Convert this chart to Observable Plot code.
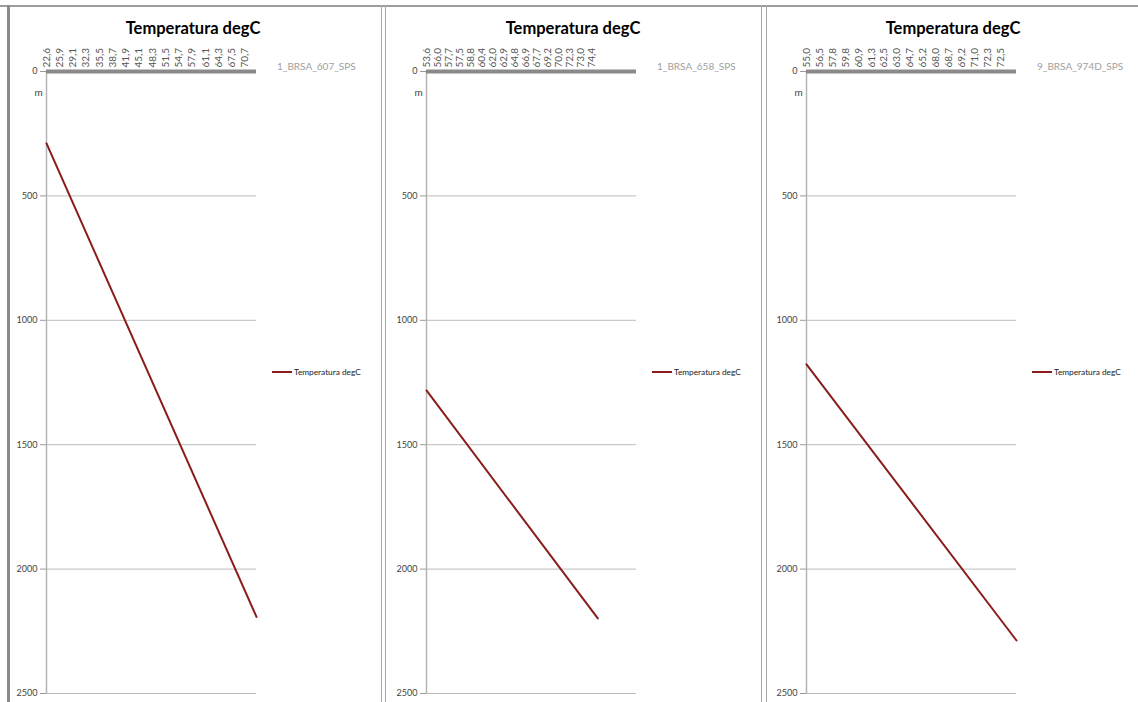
<!DOCTYPE html>
<html>
<head>
<meta charset="utf-8">
<script src="https://cdn.jsdelivr.net/npm/d3@7"></script>
<script src="https://cdn.jsdelivr.net/npm/@observablehq/plot@0.6"></script>
<style>
  html, body { margin: 0; padding: 0; background: #fff; }
  #wrap { position: relative; width: 1138px; height: 702px; overflow: hidden; font-family: Lato, "Open Sans", sans-serif; }
  .abs { position: absolute; }
  .title { font-weight: bold; font-size: 16.5px; color: #000; transform: translateX(-50%); white-space: nowrap; }
  .well { font-size: 10px; color: #a0a0a0; white-space: nowrap; }
  .leg { font-size: 8.3px; color: #222; white-space: nowrap; display: flex; align-items: center; }
  .leg span.sw { display: inline-block; width: 20px; height: 2px; background: #8b1c1c; margin-right: 2px; }
</style>
</head>
<body>
<div id="wrap"></div>
<script>
// ---- data ----
const titleText = "Temperatura degC";
const wellNames = ["1_BRSA_607_SPS", "1_BRSA_658_SPS", "9_BRSA_974D_SPS"];
const tempLabels1 = ["22,6","25,9","29,1","32,3","35,5","38,7","41,9","45,1","48,3","51,5","54,7","57,9","61,1","64,3","67,5","70,7"];
const tempLabels2 = ["53,6","56,0","57,7","57,5","58,8","60,4","62,0","62,9","64,8","66,9","67,7","69,2","70,0","72,3","73,0","74,4"];
const tempLabels3 = ["55,0","56,5","57,8","59,8","60,9","61,3","62,5","63,0","64,7","65,2","68,0","68,7","69,2","71,0","72,3","72,5"];
// category-axis extent (number of category slots) per panel
const catExtent = [15.85, 19, 16.2];
// line endpoints: category position and depth (m)
const lineCat1 = [0, 15.85];  const lineDepth1 = [289, 2192];
const lineCat2 = [0, 15.5];   const lineDepth2 = [1282, 2198];
const lineCat3 = [0, 16.2];   const lineDepth3 = [1177, 2287];
const depthTicks = [0, 500, 1000, 1500, 2000, 2500];

// ---- layout ----
const wrap = document.getElementById("wrap");
const panelLeft = [46, 426, 806];   // plot-area left edge of each panel
const mLeft = 40;

function addDiv(cls, style, html) {
  const d = document.createElement("div");
  d.className = cls;
  Object.assign(d.style, style);
  if (html != null) d.innerHTML = html;
  wrap.appendChild(d);
  return d;
}

// frame lines
addDiv("abs", {left: "0px", top: "5px", width: "1138px", height: "2px", background: "#9c9c9c"});
addDiv("abs", {left: "7px", top: "5px", width: "3px", height: "697px", background: "#8a8a8a"});
[381, 385, 761, 766].forEach(x => addDiv("abs", {left: x + "px", top: "5px", width: "1px", height: "697px", background: "#a8a8a8"}));

const panels = [
  {labels: tempLabels1, cat: lineCat1, depth: lineDepth1},
  {labels: tempLabels2, cat: lineCat2, depth: lineDepth2},
  {labels: tempLabels3, cat: lineCat3, depth: lineDepth3}
];

panels.forEach((p, k) => {
  const lineData = p.cat.map((c, i) => ({cat: c, depth: p.depth[i]}));
  const chart = Plot.plot({
    width: 370,
    height: 702,
    marginTop: 71,
    marginBottom: 9,
    marginLeft: mLeft,
    marginRight: 120,
    style: {fontFamily: "Lato, 'Open Sans', sans-serif", fontSize: "10px", color: "#444", background: "transparent", overflow: "visible"},
    x: {domain: [0, catExtent[k]]},
    y: {domain: [0, 2500], reverse: true},
    marks: [
      Plot.ruleY(depthTicks.slice(1), {stroke: "#bdbdbd", strokeWidth: 1}),
      Plot.ruleX([0], {stroke: "#b5b5b5", strokeWidth: 1.5}),
      Plot.axisY(depthTicks, {anchor: "left", tickSize: 6, tickPadding: 3, stroke: "#999", fontSize: 9, fill: "#444",
        tickFormat: d => String(d), label: null}),
      Plot.text(["m"], {frameAnchor: "top-left", dx: -12, dy: 17, fontSize: 10, fill: "#444"}),
      Plot.axisX(d3.range(p.labels.length), {anchor: "top", tickSize: 0, tickPadding: 4, tickRotate: -90,
        tickFormat: i => p.labels[i], fontSize: 10, fill: "#555", label: null}),
      Plot.line(lineData, {x: "cat", y: "depth", stroke: "#8b1c1c", strokeWidth: 2}),
      Plot.ruleY([0], {stroke: "#8a8a8a", strokeWidth: 4})
    ]
  });
  chart.style.position = "absolute";
  chart.style.left = (panelLeft[k] - mLeft) + "px";
  chart.style.top = "0px";
  wrap.appendChild(chart);

  const base = k * 380;
  addDiv("abs title", {left: (base + 193) + "px", top: "18px"}, titleText);
  addDiv("abs well", {left: (panelLeft[k] + 231) + "px", top: "60px"}, wellNames[k]);
  addDiv("abs leg", {left: (panelLeft[k] + 226) + "px", top: "367px"}, '<span class="sw"></span>' + titleText);
});
</script>
</body>
</html>
